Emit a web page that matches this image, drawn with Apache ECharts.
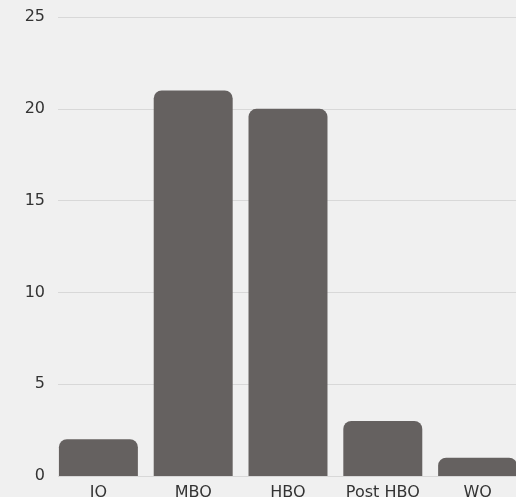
<!DOCTYPE html>
<html><head><meta charset="utf-8">
<script src="https://cdn.jsdelivr.net/npm/echarts@6/dist/echarts.min.js"></script>
<style>html,body{margin:0;padding:0;background:#f0f0f0;overflow:hidden}#c{width:516px;height:497px}</style>
</head><body><div id="c"></div>
<script>
const categories = ["IO", "MBO", "HBO", "Post HBO", "WO"];
const values = [2, 21, 20, 3, 1];
const yTicks = [0, 5, 10, 15, 20, 25];

const yMin = yTicks[0], yMax = yTicks[yTicks.length - 1], yStep = yTicks[1] - yTicks[0];
const chart = echarts.init(document.getElementById('c'));
chart.setOption({
  backgroundColor: '#f0f0f0',
  animation: false,
  grid: [
    { left: 51, width: 474, top: 17, height: 459, outerBoundsMode: 'none', containLabel: false },
    { left: 58, right: 0, top: 17, height: 459, outerBoundsMode: 'none', containLabel: false }
  ],
  xAxis: [{
    type: 'category', data: categories, gridIndex: 0,
    axisLine: { show: false },
    axisTick: { show: false },
    axisLabel: { color: '#333', fontFamily: 'DejaVu Sans', fontSize: 16, margin: 9, interval: 0, hideOverlap: false }
  }, {
    type: 'category', data: categories, gridIndex: 1, show: false
  }],
  yAxis: [{
    type: 'value', min: yMin, max: yMax, interval: yStep, gridIndex: 0,
    axisLine: { show: false }, axisTick: { show: false },
    axisLabel: { color: '#333', fontFamily: 'DejaVu Sans', fontSize: 16, margin: 6 },
    splitLine: { show: false }
  }, {
    type: 'value', min: yMin, max: yMax, interval: yStep, gridIndex: 1,
    axisLine: { show: false }, axisTick: { show: false }, axisLabel: { show: false },
    splitLine: { lineStyle: { color: '#d8d8d8', width: 1 } }
  }],
  series: [{
    type: 'bar', data: values, barCategoryGap: '16.7%', xAxisIndex: 0, yAxisIndex: 0,
    itemStyle: { color: '#656160', borderRadius: [8, 8, 0, 0] }
  }]
});
</script></body></html>
